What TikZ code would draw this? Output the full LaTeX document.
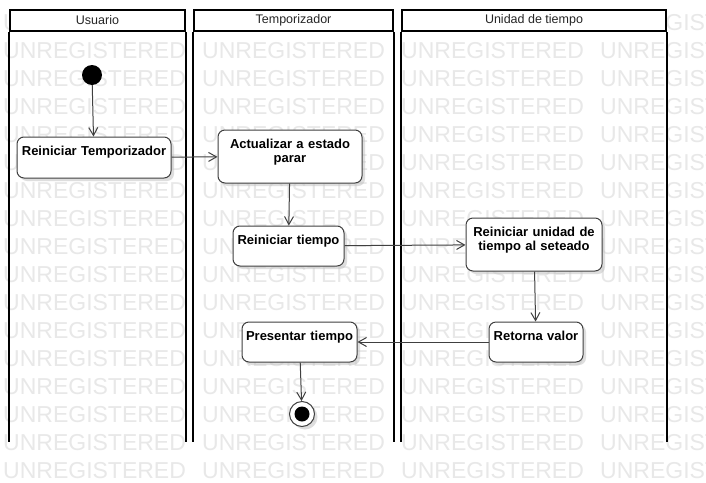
\documentclass[tikz,border=0pt]{standalone}
\usepackage{fontspec}
\setmainfont{Liberation Sans}
\usepackage{xcolor}
\usetikzlibrary{arrows.meta, shadows}

\begin{document}
\begin{tikzpicture}[
  x=1pt, y=-1pt,
  every node/.style={font=\fontsize{13}{14.5}\selectfont},
  wm/.style={anchor=base west, inner sep=0pt, text=black!9, font=\fontsize{23}{23}\selectfont},
  lane/.style={draw=black, line width=2pt},
  hdr/.style={draw=black, line width=2pt, fill=white, minimum height=21pt, inner sep=0pt, text=black!85, font=\fontsize{12.5}{14}\selectfont},
  act/.style={draw=black!75, line width=1pt, fill=white, rounded corners=7pt, align=center, inner xsep=2pt, inner ysep=0pt, text height=18pt, font=\fontsize{13}{14}\selectfont\bfseries, drop shadow={shadow xshift=3pt, shadow yshift=-3pt, fill=black!25}},
  startdot/.style={circle, fill=black, minimum size=20pt, inner sep=0pt},
  enddot/.style={circle, draw=black!75, line width=1pt, fill=white, minimum size=25pt, inner sep=0pt, path picture={\fill[black] (path picture bounding box.center) circle (7.5pt);}, drop shadow={shadow xshift=3pt, shadow yshift=-3pt, fill=black!25}},
  arrow/.style={-{Straight Barb[length=8pt, width=9pt]}, line width=1pt, draw=black!75}
]

  \path[use as bounding box, fill=white] (0,0) rectangle (706,482);

  % Marca de agua
  \begin{scope}
    \clip (0,0) rectangle (706,482);
    \foreach \r in {-1,...,15}
      \foreach \c in {0,...,3}
        \node[wm] (wm-\r-\c) at (3+199*\c, 58+28*\r) {UNREGISTERED};
  \end{scope}

  % Carriles
  \node[hdr, minimum width=175pt] (usr) at (97.5, 20.5) {Usuario};
  \node[hdr, minimum width=199pt] (tmp) at (293.5, 20.5) {Temporizador};
  \node[hdr, minimum width=264pt] (uni) at (534, 20.5) {Unidad de tiempo};
  \foreach \h in {usr, tmp, uni} {
    \draw[lane] (\h.south west) -- ++(0,410);
    \draw[lane] (\h.south east) -- ++(0,410);
  }

  % Acciones
  \node[startdot] (ini) at (92, 75) {};
  \node[act, text width=150pt, text depth=23pt] (rt) at (94, 157.5) {Reiniciar Temporizador};
  \node[act, text width=140pt, text depth=35pt] (act) at (290, 156.5) {Actualizar a estado\\parar};
  \node[act, text width=107pt, text depth=22pt] (rti) at (288.5, 246) {Reiniciar tiempo};
  \node[act, text width=132pt, text depth=35pt] (rus) at (534, 244.5) {Reiniciar unidad de\\tiempo al seteado};
  \node[act, text width=90pt, text depth=22pt] (rv) at (536, 342) {Retorna valor};
  \node[act, text width=111pt, text depth=22pt] (pt) at (299.5, 342) {Presentar tiempo};
  \node[enddot] (fin) at (302, 414) {};

  % Flechas
  \draw[arrow] (ini) -- (rt);
  \draw[arrow] (rt) -- (act);
  \draw[arrow] (act) -- (rti);
  \draw[arrow] (rti) -- (rus);
  \draw[arrow] (rus) -- (rv);
  \draw[arrow] (rv) -- (pt);
  \draw[arrow] (pt) -- (fin);

\end{tikzpicture}
\end{document}
